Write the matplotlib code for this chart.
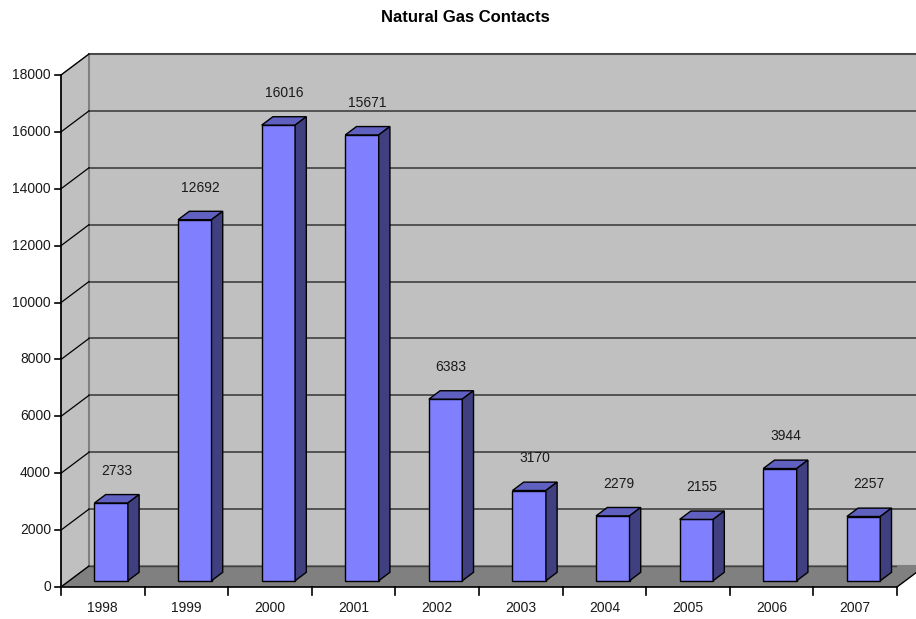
import numpy as np
import matplotlib
matplotlib.use("Agg")
import matplotlib.pyplot as plt
from matplotlib.patches import Polygon

plt.rcParams['font.family'] = ['Liberation Sans', 'DejaVu Sans']

# ----------------------------
# Data
# ----------------------------
years = ['1998', '1999', '2000', '2001', '2002', '2003', '2004', '2005', '2006', '2007']
contacts = [2733, 12692, 16016, 15671, 6383, 3170, 2279, 2155, 3944, 2257]
y_ticks = np.arange(0, 18001, 2000)

# ----------------------------
# 3D look (Excel style)
# ----------------------------
ymax = 18000
depth_dx = 0.335      # depth offset in category units
depth_dy = 738        # depth offset in value units
f0, f1 = 0.3, 0.7     # bar depth range
half_w = 0.2

wall = '#C0C0C0'
floor = '#808080'
front_c = '#8080FF'
top_c = '#6060C0'
side_c = '#404080'

fig = plt.figure(figsize=(9.16, 6.19), dpi=100)
ax = fig.add_axes([61 / 916, 32 / 619, 836 / 916, 512 / 619])
ax.set_xlim(0, len(years))
ax.set_ylim(0, ymax)
ax.axis('off')

n = len(years)

# walls and floor
ax.add_patch(Polygon([(0, 0), (depth_dx, depth_dy), (depth_dx, ymax + depth_dy), (0, ymax)],
                     closed=True, fc=wall, ec='#808080', lw=1, clip_on=False, zorder=1))
ax.add_patch(Polygon([(depth_dx, depth_dy), (n + 2 * depth_dx, depth_dy),
                      (n + 2 * depth_dx, ymax + depth_dy), (depth_dx, ymax + depth_dy)],
                     closed=True, fc=wall, ec='#808080', lw=1.5, clip_on=False, zorder=1))
ax.add_patch(Polygon([(0, 0), (n, 0), (n + depth_dx, depth_dy), (depth_dx, depth_dy)],
                     closed=True, fc=floor, ec='none', clip_on=False, zorder=2))

# gridlines
for v in y_ticks[1:]:
    ax.plot([depth_dx, n + 2 * depth_dx], [v + depth_dy, v + depth_dy], color='#404040',
            lw=1.2, clip_on=False, zorder=2)
    ax.plot([0, depth_dx], [v, v + depth_dy], color='black', lw=0.9, clip_on=False, zorder=2)
ax.plot([depth_dx, n + depth_dx], [depth_dy, depth_dy], color='#404040', lw=1, zorder=2)

# axes lines
ax.plot([0, 0], [0, ymax], color='black', lw=1.2, clip_on=False, zorder=5)
ax.plot([0, n], [0, 0], color='black', lw=1.2, clip_on=False, zorder=5)
ax.plot([n, n + depth_dx], [0, depth_dy], color='black', lw=1, clip_on=False, zorder=5)
ax.plot([0, depth_dx], [0, depth_dy], color='black', lw=1, clip_on=False, zorder=5)

# y ticks
for v in y_ticks:
    ax.plot([-0.075, 0], [v, v], color='black', lw=1.2, clip_on=False, zorder=5)
    ax.text(-0.12, v, str(v), ha='right', va='center', fontsize=10, color='#1a1a1a')

# x ticks
for i in range(n + 1):
    ax.plot([i, i], [0, -290], color='black', lw=1.2, clip_on=False, zorder=5)
for i, yr in enumerate(years):
    ax.text(i + 0.5, -740, yr, ha='center', va='center', fontsize=10, color='#1a1a1a')

# bars
for i, v in enumerate(contacts):
    c = i + 0.5
    x0 = c - half_w + f0 * depth_dx
    x1 = c + half_w + f0 * depth_dx
    b0 = f0 * depth_dy
    ddx = (f1 - f0) * depth_dx
    ddy = (f1 - f0) * depth_dy
    top = v + b0
    ax.add_patch(Polygon([(x0, b0), (x1, b0), (x1, top), (x0, top)], closed=True,
                         fc=front_c, ec='black', lw=1, zorder=10))
    ax.add_patch(Polygon([(x0, top), (x1, top), (x1 + ddx, top + ddy), (x0 + ddx, top + ddy)],
                         closed=True, fc=top_c, ec='black', lw=1, zorder=10))
    ax.add_patch(Polygon([(x1, b0), (x1 + ddx, b0 + ddy), (x1 + ddx, top + ddy), (x1, top)],
                         closed=True, fc=side_c, ec='black', lw=1, zorder=10))
    ax.text(c + 0.5 * depth_dx, v + 1350, str(v), ha='center', va='center',
            fontsize=10, color='#1a1a1a', zorder=11)

fig.text(465 / 916, 1 - 18 / 619, 'Natural Gas Contacts', ha='center', va='center',
         fontsize=12, fontweight='bold')

plt.savefig('out.png', dpi=100)
